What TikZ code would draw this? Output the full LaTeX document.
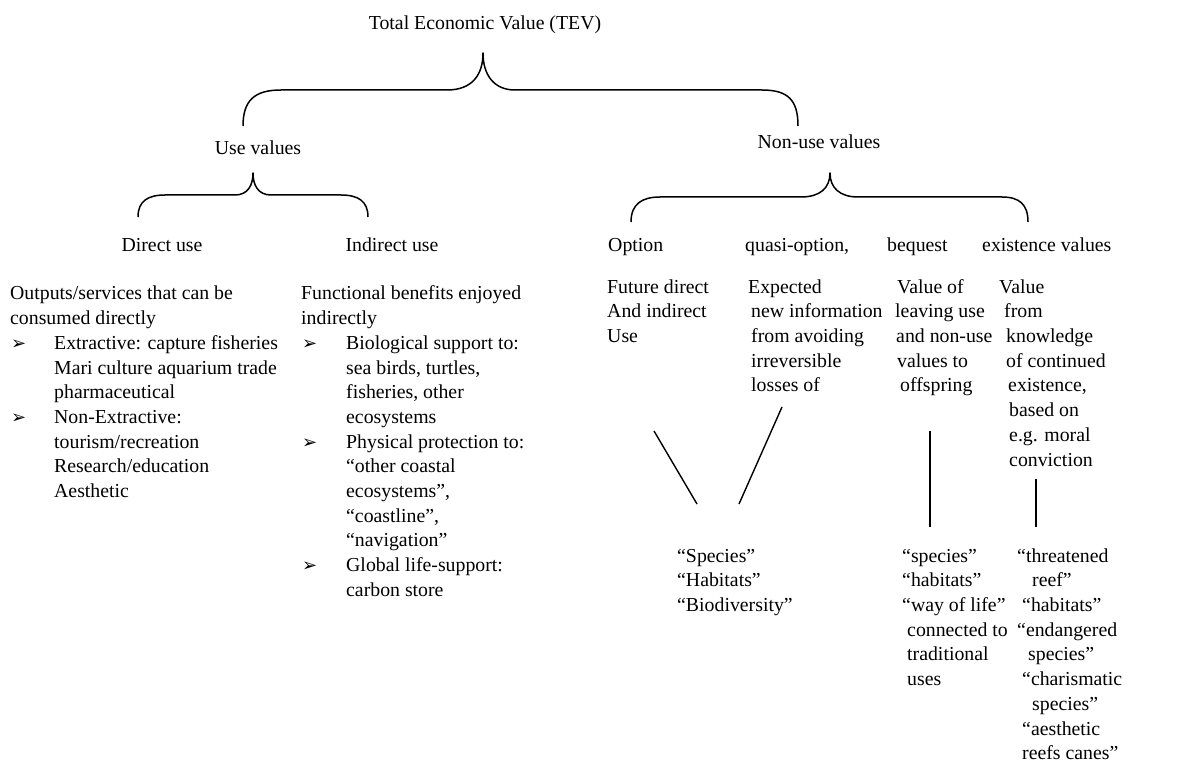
\documentclass[tikz,border=0pt]{standalone}
\usepackage{fontspec}
\setmainfont{Liberation Serif}
\newfontfamily\dejavu{DejaVu Sans}
\newcommand{\bul}[1]{\makebox[#1][l]{\hspace*{1pt}{\dejavu\fontsize{18}{18}\selectfont ➢}}}
\newcommand{\ind}[1]{\hspace*{#1}}
\begin{document}
\begin{tikzpicture}[x=1pt,y=-1pt,
  txt/.style={font=\fontsize{19.8}{24.7}\selectfont, inner sep=0pt},
  blk/.style={txt, align=left, anchor=north west},
  lbl/.style={txt, anchor=base},
  lbll/.style={txt, anchor=base west},
  brace/.style={line width=1.5pt, line join=round},
  conn/.style={line width=1.4pt}]
\useasboundingbox (0,0) rectangle (1181,762);

% titles
\node[lbl] (tev) at (485,30) {Total Economic Value (TEV)};
\node[lbl] (use) at (258,155) {Use values};
\node[lbl] (nonuse) at (819,149) {Non-use values};

% braces
\draw[brace] (243,126) .. controls (243,100) and (255,90) .. (281,90) -- (447,90)
  .. controls (472,90) and (483,75) .. (483,53)
  .. controls (483,75) and (494,90) .. (515,90) -- (762,90)
  .. controls (788,90) and (798,100) .. (798,126);
\draw[brace] (138,217) .. controls (138,201) and (148,195) .. (165,195) -- (235,195)
  .. controls (248,195) and (253,185) .. (253,173)
  .. controls (253,185) and (258,195) .. (271,195) -- (341,195)
  .. controls (358,195) and (368,201) .. (368,217);
\draw[brace] (631,222) .. controls (631,204) and (642,197) .. (660,197) -- (801,197)
  .. controls (820,197) and (830,188) .. (830,173)
  .. controls (830,188) and (840,197) .. (858,197) -- (1002,197)
  .. controls (1019,197) and (1028,204) .. (1028,222);

% row labels
\node[lbl] (direct) at (162,252) {Direct use};
\node[lbl] (indirect) at (392,252) {Indirect use};
\node[lbll] (option) at (608,252) {Option};
\node[lbll] (quasi) at (745,252) {quasi-option,};
\node[lbll] (bequest) at (887,252) {bequest};
\node[lbll] (exist) at (982,252) {existence values};

% body blocks
\node[blk] (directtxt) at (10,282.5) {\strut Outputs/services that can be\\
consumed directly\\
\bul{44pt}Extractive: capture fisheries\\
\ind{44pt}Mari culture aquarium trade\\
\ind{44pt}pharmaceutical\\
\bul{44pt}Non-Extractive:\\
\ind{44pt}tourism/recreation\\
\ind{44pt}Research/education\\
\ind{44pt}Aesthetic};

\node[blk] (indirecttxt) at (301,282.5) {\strut Functional benefits enjoyed\\
indirectly\\
\bul{45pt}Biological support to:\\
\ind{45pt}sea birds, turtles,\\
\ind{45pt}fisheries, other\\
\ind{45pt}ecosystems\\
\bul{45pt}Physical protection to:\\
\ind{45pt}“other coastal\\
\ind{45pt}ecosystems”,\\
\ind{45pt}“coastline”,\\
\ind{45pt}“navigation”\\
\bul{45pt}Global life-support:\\
\ind{45pt}carbon store};

\node[blk] (optiontxt) at (607,275.7) {\strut Future direct\\And indirect\\Use};
\node[blk] (quasitxt) at (748,275.7) {\strut Expected\\
\ind{3pt}new information\\
\ind{3pt}from avoiding\\
\ind{3pt}irreversible\\
\ind{3pt}losses of};
\node[blk] (bequesttxt) at (895,275.7) {\strut\ind{2pt}Value of\\
leaving use\\
\ind{1pt}and non-use\\
\ind{2pt}values to\\
\ind{5pt}offspring};
\node[blk] (existtxt) at (999,275.7) {\strut Value\\
\ind{5pt}from\\
\ind{7pt}knowledge\\
\ind{7pt}of continued\\
\ind{9pt}existence,\\
\ind{10pt}based on\\
\ind{10pt}e.g. moral\\
\ind{10pt}conviction};

% bottom blocks
\node[blk] (species) at (677,544.7) {\strut “Species”\\“Habitats”\\“Biodiversity”};
\node[blk] (bequestbot) at (902,544.7) {\strut “species”\\
“habitats”\\
“way of life”\\
\ind{5pt}connected to\\
\ind{5pt}traditional\\
\ind{5pt}uses};
\node[blk] (existbot) at (1017,544.7) {\strut “threatened\\
\ind{15pt}reef”\\
\ind{5pt}“habitats”\\
“endangered\\
\ind{11pt}species”\\
\ind{5pt}“charismatic\\
\ind{15pt}species”\\
\ind{5pt}“aesthetic\\
\ind{5pt}reefs canes”};

% connectors
\coordinate (o1) at (654,431);
\coordinate (o2) at (697,504);
\coordinate (q1) at (782,407);
\coordinate (q2) at (739,504);
\coordinate (b1) at (930,431);
\coordinate (b2) at (930,527);
\coordinate (e1) at (1036,479);
\coordinate (e2) at (1036,527);
\draw[conn] (o1) -- (o2);
\draw[conn] (q1) -- (q2);
\draw[conn] (b1) -- (b2);
\draw[conn] (e1) -- (e2);
\end{tikzpicture}
\end{document}
